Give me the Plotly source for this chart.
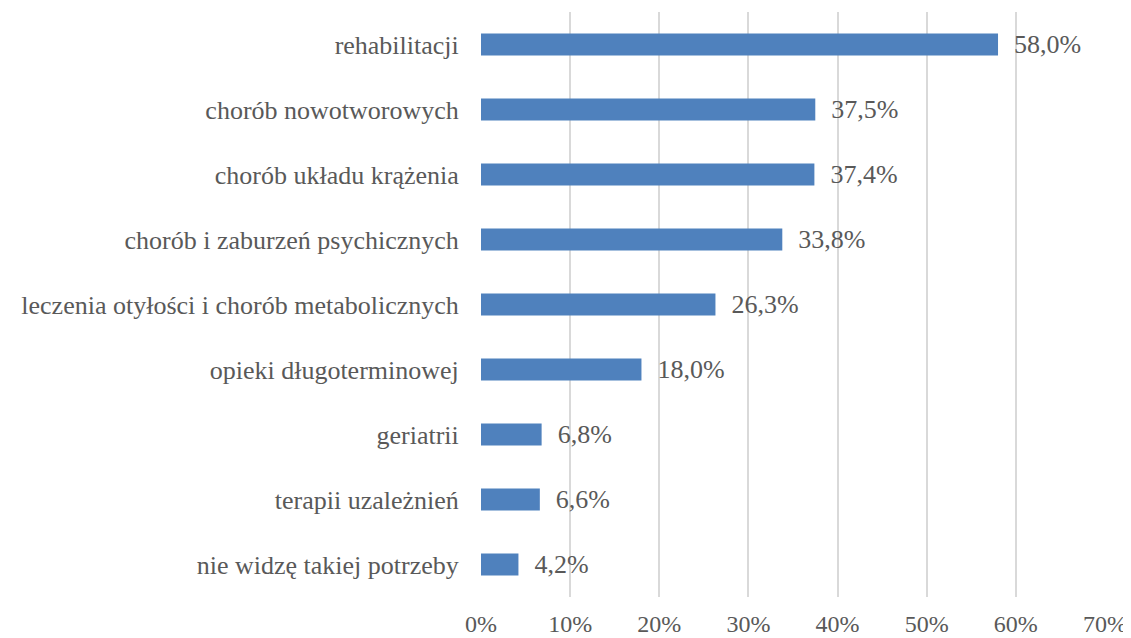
import plotly.graph_objects as go

categories = [
    "rehabilitacji",
    "chorób nowotworowych",
    "chorób układu krążenia",
    "chorób i zaburzeń psychicznych",
    "leczenia otyłości i chorób metabolicznych",
    "opieki długoterminowej",
    "geriatrii",
    "terapii uzależnień",
    "nie widzę takiej potrzeby",
]
values = [0.580, 0.375, 0.374, 0.338, 0.263, 0.180, 0.068, 0.066, 0.042]
tick_vals = [0, 0.1, 0.2, 0.3, 0.4, 0.5, 0.6, 0.7]

serif = "'Liberation Serif', 'Times New Roman', serif"
text_color = "#595959"

fig = go.Figure(
    go.Bar(
        x=values,
        y=categories,
        orientation="h",
        marker=dict(color="#4F81BD", line=dict(width=0)),
        width=0.34,
        texttemplate="\u00a0\u00a0%{x:.1%}",
        textposition="outside",
        constraintext="none",
        textfont=dict(size=26, color=text_color, family=serif),
        cliponaxis=False,
    )
)

# the page body has an 8px margin, so the figure is drawn 8px smaller
fig.update_layout(
    width=1123,
    height=630,
    margin=dict(l=473, r=26, t=4, b=41, autoexpand=False),
    paper_bgcolor="white",
    plot_bgcolor="white",
    separators=", ",
    showlegend=False,
    font=dict(family=serif, size=26, color=text_color),
)
fig.update_xaxes(
    range=[0, 0.7],
    tickvals=tick_vals,
    tickformat=".0%",
    showgrid=True,
    gridcolor="#D9D9D9",
    gridwidth=2,
    zeroline=False,
    showline=False,
    automargin=False,
    ticks="outside",
    ticklen=5,
    tickcolor="rgba(0,0,0,0)",
    tickfont=dict(size=24, color=text_color, family=serif),
)
fig.update_yaxes(
    autorange="reversed",
    showgrid=False,
    zeroline=False,
    showline=False,
    automargin=False,
    ticks="outside",
    ticklen=16,
    tickcolor="rgba(0,0,0,0)",
    tickfont=dict(size=26, color=text_color, family=serif),
)

fig.write_html("out.html")
